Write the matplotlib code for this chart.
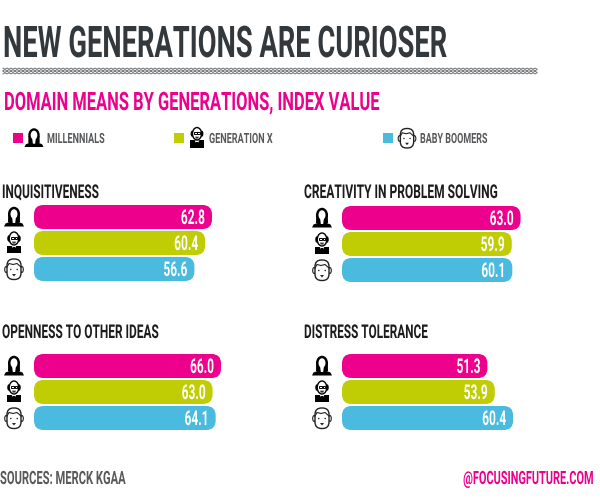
import numpy as np
import matplotlib
matplotlib.use("Agg")
import matplotlib.pyplot as plt
from matplotlib import font_manager as fm
from matplotlib.patches import FancyBboxPatch, Ellipse, Polygon, Rectangle
from matplotlib.patheffects import AbstractPathEffect
from matplotlib.transforms import Affine2D

# ---- data ----
generations = ["MILLENNIALS", "GENERATION X", "BABY BOOMERS"]
panel_titles = ["INQUISITIVENESS", "CREATIVITY IN PROBLEM SOLVING",
                "OPENNESS TO OTHER IDEAS", "DISTRESS TOLERANCE"]
inquisitiveness = [62.8, 60.4, 56.6]
creativity = [63.0, 59.9, 60.1]
openness = [66.0, 63.0, 64.1]
distress = [51.3, 53.9, 60.4]
panel_values = [inquisitiveness, creativity, openness, distress]
title = "NEW GENERATIONS ARE CURIOSER"
subtitle = "DOMAIN MEANS BY GENERATIONS, INDEX VALUE"
source = "SOURCES: MERCK KGAA"
credit = "@FOCUSINGFUTURE.COM"

# ---- style ----
W, H = 600, 501
MAGENTA, OLIVE, BLUE = "#EC008C", "#C0CD05", "#4ABADF"
colors = [MAGENTA, OLIVE, BLUE]
DARK, GREY, INK = "#33383D", "#58595B", "#1C1C1C"
PX_PER_UNIT = 2.834
XMAX = 70

try:
    fm.findfont(fm.FontProperties(family="Liberation Sans Narrow", weight="bold"),
                fallback_to_default=False)
    FAMILY = "Liberation Sans Narrow"
    CAP = 0.70
except ValueError:
    FAMILY = "Roboto"
    CAP = 0.711

fig = plt.figure(figsize=(W / 100, H / 100), dpi=100, facecolor="white")
renderer = fig.canvas.get_renderer()
ov = fig.add_axes([0, 0, 1, 1], zorder=5)
ov.set_xlim(0, W)
ov.set_ylim(H, 0)
ov.axis("off")
ov.patch.set_alpha(0)


class Stretch(AbstractPathEffect):
    """Stretch text vertically about its baseline, for a condensed letterform."""
    def __init__(self, sy, y0):
        super().__init__()
        self.sy, self.y0 = sy, y0

    def draw_path(self, rend, gc, tpath, affine, rgbFace=None):
        t = affine + Affine2D().translate(0, -self.y0).scale(1, self.sy).translate(0, self.y0)
        rend.draw_path(gc, tpath, t, rgbFace)


def label(ax, x, y, s, cap_px, width_px, color, ha="left", weight="bold"):
    """x, y in ax data coordinates; y is the baseline."""
    fs = cap_px / CAP * 0.72
    t = ax.text(x, y, s, family=FAMILY, weight=weight, color=color, ha=ha, va="baseline",
                fontsize=fs, zorder=10)
    ratio = width_px / t.get_window_extent(renderer).width
    t.set_fontsize(fs * ratio)
    y0 = ax.transData.transform((x, y))[1]
    t.set_path_effects([Stretch(1 / ratio, y0)])
    return t


def icon_woman(cx, cy, s=1.0):
    P = lambda pts: [(cx + a * s, cy + b * s) for a, b in pts]
    ov.add_patch(Polygon(P([(-10, 9.5), (-8.5, 6.5), (-3, 4.5), (3, 4.5), (8.5, 6.5), (10, 9.5)]),
                         fc="black", ec="none"))
    ov.add_patch(Ellipse((cx, cy - 3 * s), 12 * s, 14.5 * s, fc="black", ec="none"))
    ov.add_patch(Polygon(P([(-5.8, -2), (-6, 5), (-2, 6.5), (2, 6.5), (6, 5), (5.8, -2)]), fc="black", ec="none"))
    ov.add_patch(Ellipse((cx, cy - 3 * s), 7 * s, 9.5 * s, fc="white", ec="none"))
    ov.add_patch(Polygon(P([(-1.8, 1), (1.8, 1), (1.2, 6), (-1.2, 6)]), fc="white", ec="none"))


def icon_man(cx, cy, s=1.0):
    P = lambda pts: [(cx + a * s, cy + b * s) for a, b in pts]
    ov.add_patch(Rectangle((cx - 7 * s, cy + 2.5 * s), 14 * s, 7.5 * s, fc="black", ec="none"))
    ov.add_patch(Polygon(P([(-2.5, 2.5), (2.5, 2.5), (0, 7)]), fc="white", ec="none"))
    ov.add_patch(Polygon(P([(-0.8, 4), (0.8, 4), (0.8, 10), (-0.8, 10)]), fc="black", ec="none"))
    ov.add_patch(Ellipse((cx - 5 * s, cy - 4.5 * s), 3.5 * s, 6.5 * s, fc="black", ec="none"))
    ov.add_patch(Ellipse((cx + 5 * s, cy - 4.5 * s), 3.5 * s, 6.5 * s, fc="black", ec="none"))
    ov.add_patch(Ellipse((cx, cy - 4.5 * s), 9.5 * s, 13 * s, fc="white", ec="black", lw=1))
    ov.add_patch(Rectangle((cx - 3.4 * s, cy - 6 * s), 2.9 * s, 2 * s, fc="white", ec="black", lw=0.7))
    ov.add_patch(Rectangle((cx + 0.5 * s, cy - 6 * s), 2.9 * s, 2 * s, fc="white", ec="black", lw=0.7))
    ov.add_patch(Polygon(P([(-2, -1.4), (2, -1.4), (1.2, 0.6), (-1.2, 0.6)]), fc="#333333", ec="none"))


def icon_boomer(cx, cy, s=1.0):
    ink = "#222222"
    ov.add_patch(Ellipse((cx - 7.8 * s, cy + 0.5 * s), 3 * s, 6 * s, fc="white", ec=ink, lw=0.8))
    ov.add_patch(Ellipse((cx + 7.8 * s, cy + 0.5 * s), 3 * s, 6 * s, fc="white", ec=ink, lw=0.8))
    ov.add_patch(FancyBboxPatch((cx - 7 * s, cy - 10 * s), 14 * s, 20.5 * s,
                                boxstyle=f"round,pad=0,rounding_size={6.5 * s}",
                                fc="white", ec=ink, lw=1))
    ov.plot([cx - 7 * s, cx - 5 * s, cx - 1 * s, cx + 3 * s, cx + 7 * s],
            [cy - 2 * s, cy - 5.5 * s, cy - 4.5 * s, cy - 5.5 * s, cy - 2 * s], color=ink, lw=0.8)
    ov.add_patch(Ellipse((cx - 3.2 * s, cy + 0.5 * s), 1.5 * s, 1.5 * s, fc=ink, ec="none"))
    ov.add_patch(Ellipse((cx + 3.2 * s, cy + 0.5 * s), 1.5 * s, 1.5 * s, fc=ink, ec="none"))
    ov.add_patch(Polygon([(cx - 2 * s, cy + 5 * s), (cx + 2 * s, cy + 5 * s), (cx, cy + 7.5 * s)],
                         fc=ink, ec="none"))


icons = [icon_woman, icon_man, icon_boomer]

# ---- header ----
label(ov, 3, 57, title, 31, 444, DARK)
xs = np.arange(3, 538, 2.0)
for k, y0 in enumerate([68.6, 70.2, 71.8, 73.4]):
    ys = y0 + 0.55 * ((np.arange(len(xs)) % 2) * 2 - 1) * (-1) ** k
    ov.plot(xs, ys, color="#6A6E71", lw=0.65, solid_joinstyle="miter")
label(ov, 4, 110, subtitle, 18, 375, MAGENTA)

# ---- legend ----
swatch_x = [13, 174, 383]
icon_x = [34, 197, 407]
text_x = [47, 209, 420]
text_w = [58, 64, 68]
for g, c, sx, ix, tx, tw, ic in zip(generations, colors, swatch_x, icon_x, text_x, text_w, icons):
    ov.add_patch(Rectangle((sx, 133), 10, 10, fc=c, ec="none"))
    ic(ix, 138, 0.95)
    label(ov, tx, 143, g, 10, tw, GREY)

# ---- panels ----
panel_x = [34, 342, 34, 342]
panel_top = [205, 206, 354, 354]
title_x = [2, 304, 2, 304]
title_base = [198, 198, 338, 338]
title_w = [97, 194, 157, 124]
PITCH, BAR_H = 26, 24
for name, vals, x0, top, tx, tb, tw in zip(panel_titles, panel_values, panel_x, panel_top,
                                           title_x, title_base, title_w):
    label(ov, tx, tb, name, 13.5, tw, INK)
    ax = fig.add_axes([x0 / W, 1 - (top - 1 + 3 * PITCH) / H, XMAX * PX_PER_UNIT / W, 3 * PITCH / H],
                      zorder=2)
    ax.set_xlim(0, XMAX)
    ax.set_ylim(2.5, -0.5)
    ax.axis("off")
    h = BAR_H / PITCH
    r = 9.5 / PX_PER_UNIT
    aspect = (9.5 / PITCH) / r
    for i, (v, c) in enumerate(zip(vals, colors)):
        ax.add_patch(FancyBboxPatch((0, i - h / 2), v, h, boxstyle=f"round,pad=0,rounding_size={r}",
                                    mutation_aspect=aspect, fc=c, ec="none"))
        label(ax, v - 7 / PX_PER_UNIT, i + 7 / PITCH, f"{v:.1f}", 14.5, 24, "white", ha="right")
        icons[i](x0 - 20, top - 1 + PITCH * (i + 0.5), 1.0)

# ---- footer ----
label(ov, 0, 484, source, 13, 125, GREY)
label(ov, 593, 484, credit, 13, 130, MAGENTA, ha="right")

fig.savefig("out.png", dpi=100, facecolor="white")
